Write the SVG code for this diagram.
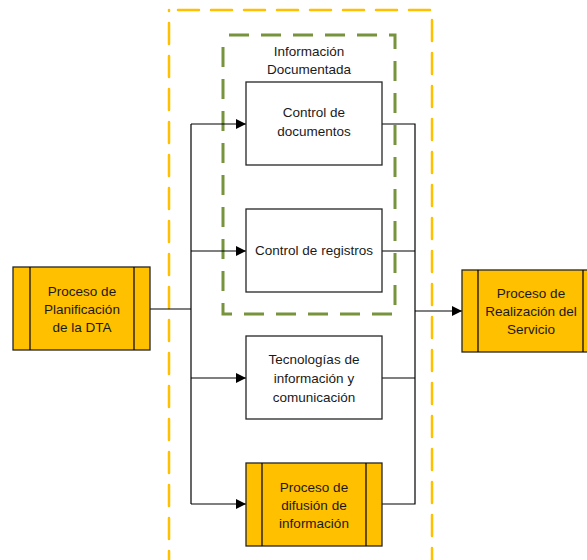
<svg xmlns="http://www.w3.org/2000/svg" width="587" height="560" viewBox="0 0 587 560">
<style>
text{font-family:"Liberation Sans",Arial,sans-serif;font-size:13.5px;fill:#1a1a1a;text-anchor:middle}
.box{fill:#fff;stroke:#262626;stroke-width:1.3}
.proc{fill:#FFC000;stroke:#262626;stroke-width:1.3}
.line{fill:none;stroke:#000;stroke-width:1.2}
.arr{fill:none;stroke:#000;stroke-width:1.2;marker-end:url(#ah)}
</style>
<defs>
<marker id="ah" viewBox="0 0 10 10" refX="10" refY="5" markerWidth="10" markerHeight="10" markerUnits="userSpaceOnUse" orient="auto">
<path d="M0,0 L10,5 L0,10 z" fill="#000"/>
</marker>
</defs>
<rect x="0" y="0" width="587" height="560" fill="#fff"/>
<g id="limite">
<rect x="169" y="10" width="263" height="600" fill="none" stroke="#FFC000" stroke-width="2.5" stroke-dasharray="21 12" stroke-dashoffset="-9" stroke-linecap="round"/>
</g>
<g id="info-documentada">
<rect x="223" y="35" width="172" height="279" fill="none" stroke="#77933C" stroke-width="3" stroke-dasharray="20 12" stroke-dashoffset="-6"/>
<text x="309" y="56">Información</text>
<text x="309" y="74">Documentada</text>
</g>
<g id="connectors">
<path class="line" d="M150,309 H191"/>
<path class="line" d="M191,124 V504"/>
<path class="arr" d="M191,124 H246"/>
<path class="arr" d="M191,251 H246"/>
<path class="arr" d="M191,378 H246"/>
<path class="arr" d="M191,504 H246"/>
<path class="line" d="M382,124 H415 V504 H382"/>
<path class="line" d="M382,251 H415"/>
<path class="line" d="M382,378 H415"/>
<path class="arr" d="M415,311 H462"/>
</g>
<g id="planificacion">
<rect class="proc" x="13" y="267" width="137" height="83"/>
<path class="line" d="M30,267 V350 M134,267 V350" stroke="#262626"/>
<text x="82" y="296">Proceso de</text>
<text x="82" y="314">Planificación</text>
<text x="82" y="332">de la DTA</text>
</g>
<g id="control-documentos">
<rect class="box" x="246" y="82" width="136" height="83"/>
<text x="314" y="117">Control de</text>
<text x="314" y="136">documentos</text>
</g>
<g id="control-registros">
<rect class="box" x="246" y="209" width="136" height="83"/>
<text x="314" y="255">Control de registros</text>
</g>
<g id="tecnologias">
<rect class="box" x="246" y="336" width="136" height="83"/>
<text x="314" y="364">Tecnologías de</text>
<text x="314" y="383">información y</text>
<text x="314" y="402">comunicación</text>
</g>
<g id="difusion">
<rect class="proc" x="246" y="463" width="136" height="83"/>
<path class="line" d="M262,463 V546 M366,463 V546"/>
<text x="314" y="492">Proceso de</text>
<text x="314" y="510">difusión de</text>
<text x="314" y="528">información</text>
</g>
<g id="realizacion">
<rect class="proc" x="462" y="270" width="137" height="82"/>
<path class="line" d="M478,270 V352 M583,270 V352"/>
<text x="531" y="298">Proceso de</text>
<text x="531" y="316">Realización del</text>
<text x="531" y="334">Servicio</text>
</g>
</svg>
